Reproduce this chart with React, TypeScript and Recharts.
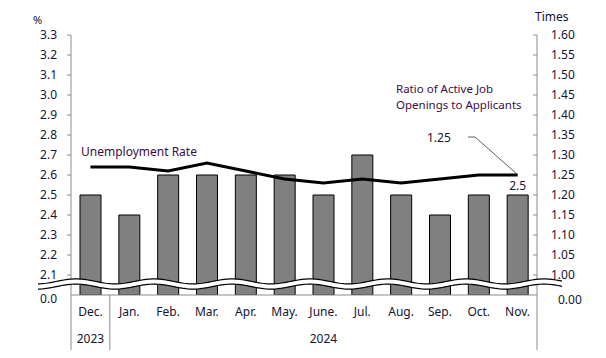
import React from 'react';
import { ComposedChart, Bar, Line, XAxis, YAxis, LabelList } from 'recharts';

const months = ['Dec.', 'Jan.', 'Feb.', 'Mar.', 'Apr.', 'May.', 'June.', 'Jul.', 'Aug.', 'Sep.', 'Oct.', 'Nov.'];
const yearGroups = [
  { label: '2023', start: 0, end: 0 },
  { label: '2024', start: 1, end: 11 },
];
const unemploymentRate = [2.5, 2.4, 2.6, 2.6, 2.6, 2.6, 2.5, 2.7, 2.5, 2.4, 2.5, 2.5];
const jobRatio = [1.27, 1.27, 1.26, 1.28, 1.26, 1.24, 1.23, 1.24, 1.23, 1.24, 1.25, 1.25];

// the lowest tick sits below the axis break and reads as zero
const leftTicks = [2.0, 2.1, 2.2, 2.3, 2.4, 2.5, 2.6, 2.7, 2.8, 2.9, 3.0, 3.1, 3.2, 3.3];
const rightTicks = [0.95, 1.0, 1.05, 1.1, 1.15, 1.2, 1.25, 1.3, 1.35, 1.4, 1.45, 1.5, 1.55, 1.6];

const data = months.map((m, i) => ({ month: m, rate: unemploymentRate[i], ratio: jobRatio[i] }));

const FONT = '"Noto Sans", sans-serif';
const TEXT = '#141433';
const NOTE = '#3a0d45';
const GRID = '#8c8c8c';

const LeftTick = (props: any) => {
  const { x, y, payload } = props;
  const isBreak = payload.value === leftTicks[0];
  return (
    <g>
      {!isBreak && <line x1={x + 10} x2={x + 14} y1={y} y2={y} stroke={GRID} />}
      <text x={x} y={y} dy={isBreak ? 8 : 4} textAnchor="end" fontSize={12} fontFamily={FONT} fill={TEXT}>
        {isBreak ? '0.0' : payload.value.toFixed(1)}
      </text>
    </g>
  );
};

const RightTick = (props: any) => {
  const { x, y, payload } = props;
  const isBreak = payload.value === rightTicks[0];
  return (
    <g>
      {!isBreak && <line x1={x - 18} x2={x - 14} y1={y} y2={y} stroke={GRID} />}
      <text x={x} y={y} dx={isBreak ? 7 : 0} dy={isBreak ? 9 : 4} textAnchor="start" fontSize={12} fontFamily={FONT} fill={TEXT}>
        {isBreak ? '0.00' : payload.value.toFixed(2)}
      </text>
    </g>
  );
};

const MonthTick = (props: any) => {
  const { x, y, payload, index } = props;
  const group = yearGroups.find((g) => Math.floor((g.start + g.end) / 2) === index);
  return (
    <g>
      <text x={x} y={y + 21} textAnchor="middle" fontSize={12} fontFamily={FONT} fill={TEXT}>
        {payload.value}
      </text>
      {group && (
        <text x={x} y={y + 48} textAnchor="middle" fontSize={12} fontFamily={FONT} fill={TEXT}>
          {group.label}
        </text>
      )}
    </g>
  );
};

const LastBarLabel = (props: any) => {
  const { x, y, width, index, value } = props;
  if (index !== unemploymentRate.length - 1) return null;
  return (
    <text x={x + width / 2} y={y - 5} textAnchor="middle" fontSize={12} fontFamily={FONT} fill={TEXT}>
      {value.toFixed(1)}
    </text>
  );
};

// wavy axis break drawn across the bars
function wave(offset: number) {
  const pts: string[] = [];
  for (let x = 38; x <= 562; x += 2) {
    const y = 284 - 2.5 * Math.cos((2 * Math.PI * (x - 76)) / 78) + offset;
    pts.push(`${x},${y.toFixed(2)}`);
  }
  return pts;
}

export default function App() {
  const top = wave(-2.6);
  const bottom = wave(2.6);
  const band = `M${top.join(' L')} L${bottom.slice().reverse().join(' L')} Z`;

  return (
    <div style={{ position: 'absolute', left: 0, top: 0, width: 606, height: 358, background: '#fff' }}>
      <ComposedChart width={606} height={358} data={data} margin={{ top: 35, right: 0, bottom: 0, left: 0 }} barSize={21}>
        <XAxis dataKey="month" height={63} axisLine={{ stroke: GRID }} tickLine={false} tickSize={0} tickMargin={0} tick={<MonthTick />} interval={0} />
        <YAxis
          yAxisId="left"
          width={71}
          domain={[2.0, 3.3]}
          ticks={leftTicks}
          interval={0}
          allowDataOverflow
          axisLine={{ stroke: GRID }}
          tickLine={false}
          tickSize={4}
          tickMargin={10}
          tick={<LeftTick />}
        />
        <YAxis
          yAxisId="right"
          orientation="right"
          width={69}
          domain={[0.95, 1.6]}
          ticks={rightTicks}
          interval={0}
          allowDataOverflow
          axisLine={{ stroke: GRID }}
          tickLine={false}
          tickSize={4}
          tickMargin={10}
          tick={<RightTick />}
        />
        <Bar yAxisId="left" dataKey="rate" fill="#808080" stroke="#000" strokeWidth={1} barSize={21} isAnimationActive={false}>
          <LabelList dataKey="rate" content={<LastBarLabel />} />
        </Bar>
        <Line yAxisId="right" type="linear" dataKey="ratio" stroke="#000" strokeWidth={3} dot={false} isAnimationActive={false} />
      </ComposedChart>

      <svg width={606} height={358} style={{ position: 'absolute', left: 0, top: 0, pointerEvents: 'none' }}>
        <path d={band} fill="#fff" stroke="none" />
        <polyline points={top.join(' ')} fill="none" stroke="#000" strokeWidth={1.2} />
        <polyline points={bottom.join(' ')} fill="none" stroke="#000" strokeWidth={1.2} />

        <line x1={71} x2={71} y1={295} y2={350} stroke={GRID} />
        <line x1={109.8} x2={109.8} y1={295} y2={350} stroke={GRID} />
        <line x1={537} x2={537} y1={295} y2={350} stroke={GRID} />

        <text x={33} y={24} fontSize={11} fontFamily={FONT} fill={TEXT}>%</text>
        <text x={535} y={21} fontSize={12} fontFamily={FONT} fill={TEXT}>Times</text>

        <text x={81} y={156} fontSize={12} fontFamily={FONT} fill={NOTE}>Unemployment Rate</text>
        <text x={396} y={93} fontSize={11.5} fontFamily={FONT} fill={NOTE}>Ratio of Active Job</text>
        <text x={396} y={109} fontSize={11.5} fontFamily={FONT} fill={NOTE}>Openings to Applicants</text>
        <text x={427} y={142} fontSize={12} fontFamily={FONT} fill={TEXT}>1.25</text>
        <polyline points="468,137 475,137 518,175" fill="none" stroke="#333" strokeWidth={0.8} />
      </svg>
    </div>
  );
}
